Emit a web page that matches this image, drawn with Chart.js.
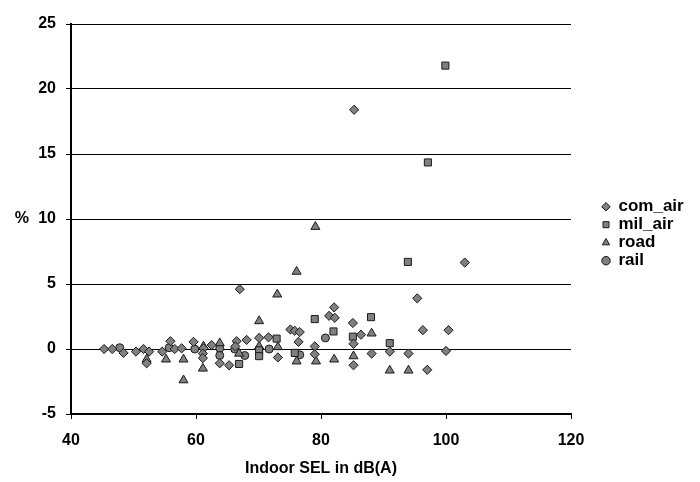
<!DOCTYPE html>
<html>
<head>
<meta charset="utf-8">
<script src="https://cdn.jsdelivr.net/npm/chart.js@4.4.1/dist/chart.umd.min.js"></script>
<style>
html, body { margin: 0; padding: 0; background: #fff; }
#wrap { width: 700px; height: 482px; }
</style>
</head>
<body>
<div id="wrap"><canvas id="chart"></canvas></div>
<script>
// values
var comAirX = [45.3, 46.6, 48.4, 50.4, 51.6, 52.5, 52.1, 54.6, 55.9, 56.6, 57.7, 59.6, 61.2, 61.1, 61.1, 62.5, 63.8, 65.3, 66.5, 66.3, 68.1, 67.0, 70.1, 71.6, 73.1, 75.1, 75.8, 76.6, 76.4, 79.0, 79.0, 81.3, 82.2, 82.1, 85.1, 85.2, 85.2, 85.3, 86.4, 88.1, 91.0, 94.0, 95.4, 96.3, 97.0, 100.0, 100.4, 103.0];
var comAirY = [0, 0, -0.3, -0.2, 0, -0.2, -1.1, -0.2, 0.6, 0, 0.05, 0.55, 0.05, -0.35, -0.7, 0.3, -1.1, -1.25, 0.6, 0.2, 0.7, 4.6, 0.85, 0.9, -0.65, 1.5, 1.4, 1.3, 0.55, 0.2, -0.4, 2.55, 2.4, 3.2, 2.0, 0.4, -1.25, 18.4, 1.1, -0.35, -0.2, -0.35, 3.9, 1.45, -1.6, -0.15, 1.45, 6.65];

var milAirX = [66.9, 70.1, 70.1, 72.9, 75.8, 79.0, 82.0, 85.1, 88.0, 91.0, 93.9, 97.1, 99.9];
var milAirY = [-1.15, -0.1, -0.55, 0.8, -0.3, 2.3, 1.35, 0.95, 2.45, 0.45, 6.7, 14.35, 21.8];

var roadX = [52.1, 55.2, 58.0, 58.0, 61.2, 61.1, 63.8, 66.9, 70.1, 70.1, 73.0, 73.1, 76.1, 76.1, 79.1, 79.2, 82.1, 85.2, 88.1, 91.0, 94.0];
var roadY = [-0.8, -0.8, -0.8, -2.4, 0.2, -1.5, 0.45, -0.35, 2.15, 0.2, 4.2, 0.15, 5.95, -0.95, 9.4, -0.95, -0.8, -0.55, 1.2, -1.65, -1.65];

var railX = [47.8, 55.7, 59.8, 63.8, 63.8, 66.2, 67.8, 71.7, 76.6, 80.7];
var railY = [0.1, 0.1, 0, 0.05, -0.5, 0, -0.5, 0, -0.45, 0.85];

var seriesNames = ['com_air', 'mil_air', 'road', 'rail'];
var xTicks = [40, 60, 80, 100, 120];
var yTicks = [-5, 0, 5, 10, 15, 20, 25];

function toPoints(xs, ys) {
    return xs.map(function(x, i) { return { x: x, y: ys[i] }; });
}

var FONT = "'Liberation Sans', Arial, sans-serif";

function makeSet(label, xs, ys, style, radius) {
    return {
        label: label,
        data: toPoints(xs, ys),
        pointStyle: style,
        pointRadius: radius,
        pointHoverRadius: radius,
        backgroundColor: '#808080',
        borderColor: '#1a1a1a',
        borderWidth: 1,
        showLine: false
    };
}

// "%" label placed left of the y tick labels, level with 10
var percentLabel = {
    id: 'percentLabel',
    afterDraw: function(chart) {
        var ctx = chart.ctx;
        var y = chart.scales.y.getPixelForValue(10);
        ctx.save();
        ctx.font = 'bold 16px ' + FONT;
        ctx.fillStyle = '#000';
        ctx.textAlign = 'right';
        ctx.textBaseline = 'middle';
        ctx.fillText('%', chart.chartArea.left - 42, y);
        ctx.restore();
    }
};

var chart = new Chart(document.getElementById('chart'), {
    type: 'scatter',
    data: {
        datasets: [
            makeSet(seriesNames[0], comAirX, comAirY, 'rectRot', 4.6),
            makeSet(seriesNames[1], milAirX, milAirY, 'rect', 5),
            makeSet(seriesNames[2], roadX, roadY, 'triangle', 5.2),
            makeSet(seriesNames[3], railX, railY, 'circle', 4)
        ]
    },
    options: {
        responsive: true,
        maintainAspectRatio: false,
        animation: false,
        layout: { padding: { top: 24, right: 0, bottom: 0, left: 0 } },
        plugins: {
            tooltip: { enabled: false },
            legend: {
                position: 'right',
                align: 'start',
                // blank title only pushes the entries down to mid height
                title: { display: true, text: ' ', padding: { top: 154, bottom: 0 }, font: { size: 16 } },
                labels: {
                    usePointStyle: true,
                    boxWidth: 8,
                    boxHeight: 6,
                    padding: 1,
                    color: '#000',
                    font: { family: FONT, size: 17, weight: 'bold' }
                }
            }
        },
        scales: {
            x: {
                type: 'linear',
                min: 40,
                max: 120,
                afterBuildTicks: function(scale) {
                    scale.ticks = xTicks.map(function(v) { return { value: v }; });
                },
                afterFit: function(scale) { scale.height = 68; },
                ticks: {
                    color: '#000',
                    padding: 12,
                    font: { family: FONT, size: 16, weight: 'bold' }
                },
                grid: { drawOnChartArea: false, drawTicks: true, tickLength: 5, color: '#000' },
                border: { display: true, color: '#000', width: 2 },
                title: {
                    display: true,
                    text: 'Indoor SEL in dB(A)',
                    color: '#000',
                    padding: { top: 4, bottom: 4 },
                    font: { family: FONT, size: 16, weight: 'bold' }
                }
            },
            y: {
                type: 'linear',
                min: -5,
                max: 25,
                afterBuildTicks: function(scale) {
                    scale.ticks = yTicks.map(function(v) { return { value: v }; });
                },
                afterFit: function(scale) { scale.width = 71; },
                ticks: {
                    color: '#000',
                    padding: 10,
                    font: { family: FONT, size: 16, weight: 'bold' }
                },
                grid: { color: '#000', lineWidth: 1, drawTicks: true, tickLength: 5 },
                border: { display: true, color: '#000', width: 2 }
            },
            // empty spacer between plot and legend
            gap: {
                type: 'linear',
                position: 'right',
                display: true,
                afterFit: function(scale) { scale.width = 30; },
                ticks: { display: false },
                grid: { display: false, drawTicks: false },
                border: { display: false }
            }
        }
    },
    plugins: [percentLabel]
});

// put the right edge of the plot where the reference has it
var extra = chart.chartArea.right - 571;
if (extra > 0) {
    chart.options.layout.padding.right = extra;
    chart.update();
}
</script>
</body>
</html>
